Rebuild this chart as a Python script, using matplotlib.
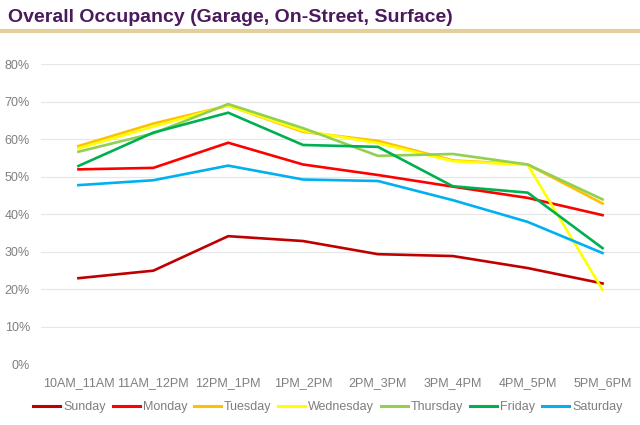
import numpy as np
import matplotlib
matplotlib.use("Agg")
import matplotlib.pyplot as plt
from matplotlib.ticker import PercentFormatter

plt.rcParams['font.family'] = ['Liberation Sans', 'DejaVu Sans']

slots = ['10AM_11AM', '11AM_12PM', '12PM_1PM', '1PM_2PM',
         '2PM_3PM', '3PM_4PM', '4PM_5PM', '5PM_6PM']

sunday    = [23.0, 25.0, 34.2, 32.9, 29.4, 28.9, 25.7, 21.6]
monday    = [52.0, 52.4, 59.1, 53.3, 50.5, 47.4, 44.4, 39.8]
tuesday   = [58.2, 64.2, 69.0, 62.0, 59.6, 54.4, 53.3, 42.9]
wednesday = [57.6, 63.4, 69.0, 62.3, 59.0, 54.2, 53.2, 19.9]
thursday  = [56.7, 61.6, 69.4, 63.0, 55.6, 56.1, 53.3, 44.0]
friday    = [52.9, 61.8, 67.1, 58.5, 58.0, 47.5, 45.8, 31.0]
saturday  = [47.8, 49.1, 53.0, 49.3, 48.9, 43.8, 38.0, 29.7]

days = ['Sunday', 'Monday', 'Tuesday', 'Wednesday', 'Thursday', 'Friday', 'Saturday']
series = [sunday, monday, tuesday, wednesday, thursday, friday, saturday]
colors = ['#C00000', '#FF0000', '#FFC000', '#FFFF00', '#92D050', '#00B050', '#00B0F0']

fig = plt.figure(figsize=(6.4, 4.25), dpi=100)

# title and gold rule
fig.text(8/640, 1 - 17/425, 'Overall Occupancy (Garage, On-Street, Surface)',
         fontsize=14, fontweight='bold', color='#4B1A5C', va='center', ha='left')
fig.add_artist(plt.Line2D([0, 1], [1 - 31/425, 1 - 31/425], color='#E2CF9A',
                          linewidth=3, transform=fig.transFigure))

ax = fig.add_axes([41/640, 1 - 364.5/425, 599/640, 300.2/425])
x = np.arange(len(slots))
for name, vals, c in zip(days, series, colors):
    ax.plot(x, vals, color=c, linewidth=1.9, label=name, solid_joinstyle='miter')

ax.set_xlim(-0.5, len(slots) - 0.5)
ax.set_ylim(0, 80)
ax.set_yticks(np.arange(0, 81, 10))
ax.yaxis.set_major_formatter(PercentFormatter(decimals=0))
ax.set_xticks(x)
ax.set_xticklabels(slots)
ax.grid(axis='y', color='#E6E6E6', linewidth=0.8)
ax.set_axisbelow(True)
for s in ax.spines.values():
    s.set_visible(False)
ax.tick_params(length=0, labelsize=9, labelcolor='#7F7F7F')
ax.tick_params(axis='x', pad=9)
ax.tick_params(axis='y', pad=8)

leg = fig.legend(loc='center', bbox_to_anchor=(328/640, 1 - 407/425), ncol=7,
                 frameon=False, fontsize=9, handlelength=2.15, handletextpad=0.25,
                 columnspacing=0.55, labelcolor='#7F7F7F')
for h in leg.get_lines():
    h.set_linewidth(2.2)

fig.savefig('out.png', dpi=100)
